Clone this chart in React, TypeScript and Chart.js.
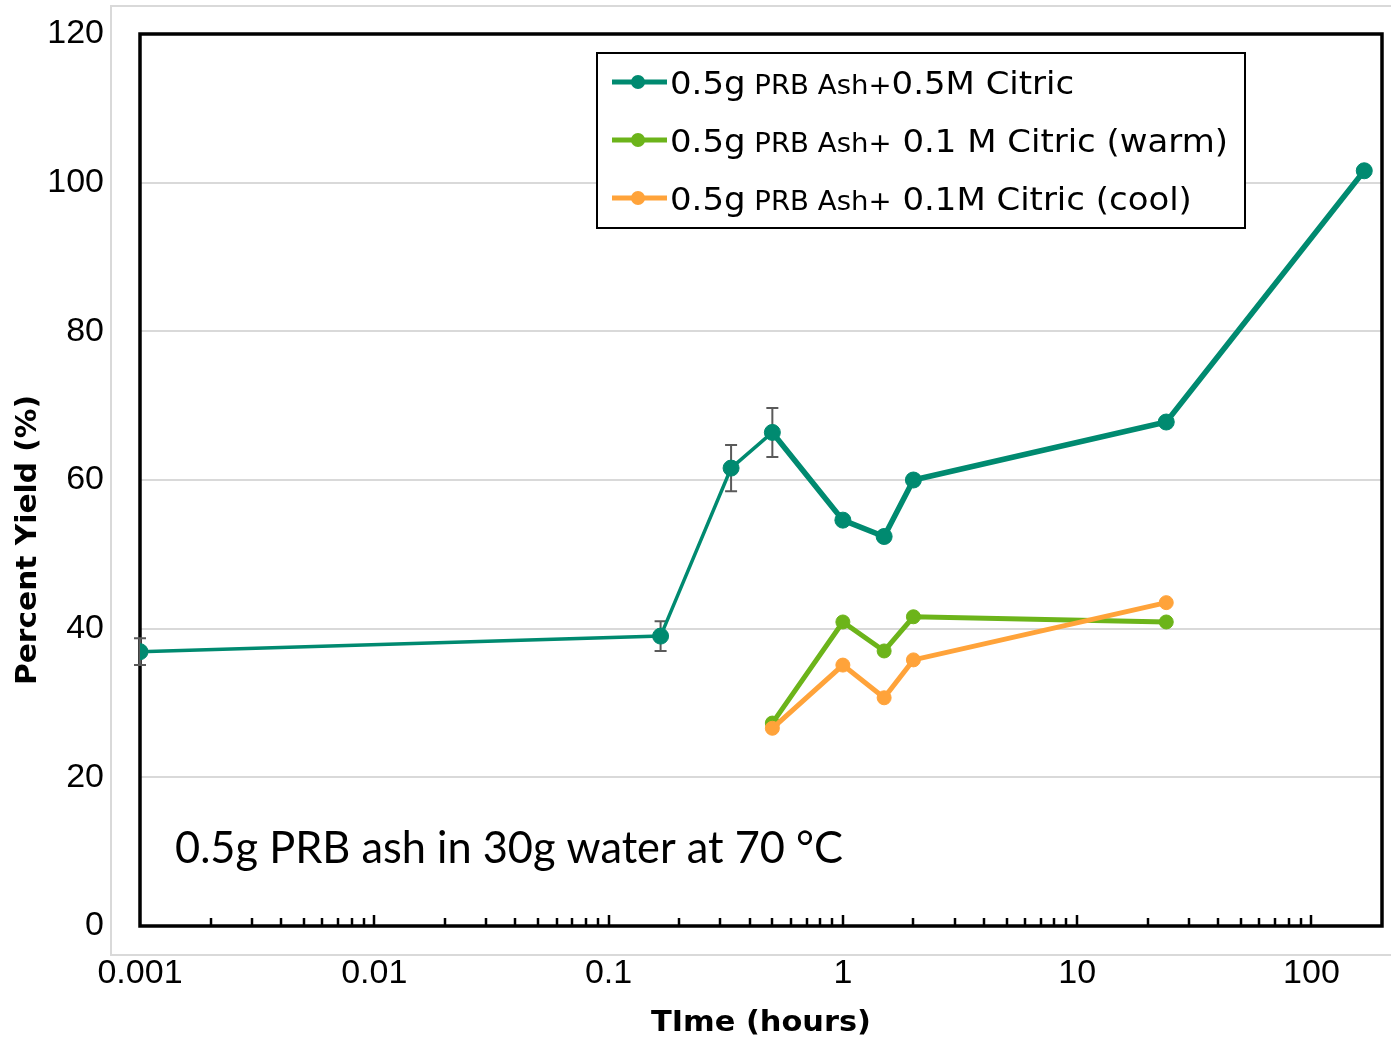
import React, { useEffect, useRef } from 'react';
import { Chart, registerables } from 'chart.js';

Chart.register(...registerables);

// ---- Data ----
const timeTeal = [0.001, 0.1667, 0.3333, 0.5, 1, 1.5, 2, 24, 168];
const yieldTeal = [36.9, 39.0, 61.6, 66.4, 54.6, 52.4, 60.0, 67.8, 101.6];
const errTeal = [1.8, 2.0, 3.1, 3.3, 0, 0, 0, 0, 0];
const timeWarmCool = [0.5, 1, 1.5, 2, 24];
const yieldWarm = [27.3, 40.9, 37.0, 41.6, 40.9];
const yieldCool = [26.6, 35.1, 30.7, 35.8, 43.5];
const xTickValues = [0.001, 0.01, 0.1, 1, 10, 100];
const xTickLabels = ['0.001', '0.01', '0.1', '1', '10', '100'];
const seriesNames = [
  '0.5g PRB Ash+0.5M Citric',
  '0.5g PRB Ash+ 0.1 M Citric (warm)',
  '0.5g PRB Ash+ 0.1M Citric (cool)',
];
// legend rows split into [big, small, big] text runs
const legendRuns = [
  ['0.5g', ' PRB Ash+', '0.5M Citric'],
  ['0.5g', ' PRB Ash+', ' 0.1 M Citric (warm)'],
  ['0.5g', ' PRB Ash+', ' 0.1M Citric (cool)'],
];
const seriesColors = ['#008A70', '#6CB41A', '#FFA33A'];
const xTitle = 'TIme (hours)';
const yTitle = 'Percent Yield (%)';
const noteText = '0.5g PRB ash in 30g water at 70 °C';

function drawScaled(ctx: CanvasRenderingContext2D, text: string, x: number, y: number, target: number) {
  const w = ctx.measureText(text).width;
  const sx = target / w;
  ctx.save();
  ctx.translate(x, y);
  ctx.scale(sx, 1);
  ctx.fillText(text, 0, 0);
  ctx.restore();
}

const decor = {
  id: 'decor',
  beforeDraw(chart: any) {
    const ctx = chart.ctx as CanvasRenderingContext2D;
    ctx.save();
    ctx.fillStyle = '#ffffff';
    ctx.fillRect(0, 0, chart.width, chart.height);
    ctx.strokeStyle = '#d9d9d9';
    ctx.lineWidth = 2;
    ctx.strokeRect(111, 6, chart.width + 20, 949);
    ctx.restore();
  },
  beforeDatasetsDraw(chart: any) {
    const ctx = chart.ctx as CanvasRenderingContext2D;
    const a = chart.chartArea;
    const xs = chart.scales.x;
    const ys = chart.scales.y;
    ctx.save();
    ctx.strokeStyle = '#000';
    ctx.lineWidth = 3.5;
    ctx.strokeRect(a.left, a.top, a.right - a.left, a.bottom - a.top);
    ctx.lineWidth = 2.5;
    for (let e = -3; e <= 2; e++) {
      for (let m = 1; m <= 9; m++) {
        const v = m * Math.pow(10, e);
        if (v <= 0.0010001 || v >= 200) continue;
        const px = Math.round(xs.getPixelForValue(v));
        const len = m === 1 ? 11 : 8;
        ctx.beginPath();
        ctx.moveTo(px, a.bottom);
        ctx.lineTo(px, a.bottom - len);
        ctx.stroke();
      }
    }
    // error bars
    ctx.strokeStyle = '#5a5a5a';
    ctx.lineWidth = 2;
    timeTeal.forEach((t, i) => {
      const e = errTeal[i];
      if (!e) return;
      const px = xs.getPixelForValue(t);
      const y1 = ys.getPixelForValue(yieldTeal[i] + e);
      const y2 = ys.getPixelForValue(yieldTeal[i] - e);
      ctx.beginPath();
      ctx.moveTo(px, y1); ctx.lineTo(px, y2);
      ctx.moveTo(px - 6, y1); ctx.lineTo(px + 6, y1);
      ctx.moveTo(px - 6, y2); ctx.lineTo(px + 6, y2);
      ctx.stroke();
    });
    ctx.restore();
  },
  afterDraw(chart: any) {
    const ctx = chart.ctx as CanvasRenderingContext2D;
    ctx.save();
    // legend box
    ctx.fillStyle = '#fff';
    ctx.fillRect(597, 53, 648, 175);
    ctx.strokeStyle = '#000';
    ctx.lineWidth = 2;
    ctx.strokeRect(597, 53, 648, 175);
    const rowY = [82, 140, 198];
    const bigFont = '32px "DejaVu Sans"';
    const smallFont = '26px "DejaVu Sans"';
    const measureRow = (runs: string[]) => {
      let w = 0;
      runs.forEach((r, k) => {
        ctx.font = k === 1 ? smallFont : bigFont;
        w += ctx.measureText(r).width;
      });
      return w;
    };
    const sx = 558 / measureRow(legendRuns[1]);
    legendRuns.forEach((runs, i) => {
      const y = rowY[i];
      ctx.strokeStyle = seriesColors[i];
      ctx.lineWidth = 5;
      ctx.beginPath();
      ctx.moveTo(612, y); ctx.lineTo(667, y);
      ctx.stroke();
      ctx.fillStyle = seriesColors[i];
      ctx.beginPath();
      ctx.arc(638, y, 7, 0, Math.PI * 2);
      ctx.fill();
      ctx.fillStyle = '#000';
      ctx.textBaseline = 'alphabetic';
      ctx.textAlign = 'left';
      ctx.save();
      ctx.translate(670, y + 12);
      ctx.scale(sx, 1);
      let x = 0;
      runs.forEach((r, k) => {
        ctx.font = k === 1 ? smallFont : bigFont;
        ctx.fillText(r, x, 0);
        x += ctx.measureText(r).width;
      });
      ctx.restore();
    });
    // annotation
    ctx.fillStyle = '#000';
    ctx.font = '44px Lato';
    ctx.textAlign = 'left';
    ctx.textBaseline = 'alphabetic';
    drawScaled(ctx, noteText, 175, 863, 668);
    // x title
    ctx.font = 'bold 28px "DejaVu Sans"';
    drawScaled(ctx, xTitle, 651, 1031, 220);
    // y title
    ctx.save();
    ctx.translate(36, 685);
    ctx.rotate(-Math.PI / 2);
    drawScaled(ctx, yTitle, 0, 0, 290);
    ctx.restore();
    ctx.restore();
  },
};

export default function App() {
  const ref = useRef<HTMLCanvasElement | null>(null);
  useEffect(() => {
    if (!ref.current) return;
    const tickFont = { family: '"Liberation Sans", Arial, sans-serif', size: 34 };
    const chart = new Chart(ref.current, {
      type: 'line',
      data: {
        datasets: [
          {
            label: seriesNames[0],
            data: timeTeal.map((x, i) => ({ x, y: yieldTeal[i] })),
            borderColor: seriesColors[0],
            backgroundColor: seriesColors[0],
            pointRadius: 8,
            pointBorderWidth: 1,
            pointBorderColor: seriesColors[0],
            borderWidth: 4,
            segment: { borderWidth: (c: any) => (c.p0DataIndex < 3 ? 3.5 : 5.5) },
            order: 2,
          },
          {
            label: seriesNames[1],
            data: timeWarmCool.map((x, i) => ({ x, y: yieldWarm[i] })),
            borderColor: seriesColors[1],
            backgroundColor: seriesColors[1],
            pointRadius: 7,
            pointBorderWidth: 1,
            pointBorderColor: seriesColors[1],
            borderWidth: 5,
            order: 1,
          },
          {
            label: seriesNames[2],
            data: timeWarmCool.map((x, i) => ({ x, y: yieldCool[i] })),
            borderColor: seriesColors[2],
            backgroundColor: seriesColors[2],
            pointRadius: 7,
            pointBorderWidth: 1,
            pointBorderColor: seriesColors[2],
            borderWidth: 5,
            order: 0,
          },
        ],
      } as any,
      options: {
        animation: false,
        responsive: true,
        maintainAspectRatio: false,
        layout: { padding: { top: 34, right: 8, left: 0, bottom: 0 } },
        plugins: { legend: { display: false }, tooltip: { enabled: false } },
        scales: {
          x: {
            type: 'logarithmic',
            min: 0.001,
            max: 200,
            afterBuildTicks: (s: any) => {
              s.ticks = xTickValues.map((v) => ({ value: v }));
            },
            afterFit: (s: any) => {
              s.height = 118;
            },
            grid: { display: false, drawTicks: false },
            border: { display: false },
            ticks: {
              font: tickFont,
              color: '#000',
              padding: 27,
              maxRotation: 0,
              autoSkip: false,
              callback: (_v: any, i: number) => xTickLabels[i],
            },
          },
          y: {
            min: 0,
            max: 120,
            afterFit: (s: any) => {
              s.width = 140;
              s.paddingTop = 0;
              s.paddingBottom = 0;
            },
            grid: { color: '#d9d9d9', lineWidth: 2, drawTicks: false },
            border: { display: false },
            ticks: { stepSize: 20, font: tickFont, color: '#000', padding: 36 },
          },
        },
      } as any,
      plugins: [decor as any],
    });
    return () => chart.destroy();
  }, []);
  return (
    <div style={{ position: 'absolute', left: 0, top: 0, width: 1391, height: 1044 }}>
      <canvas ref={ref} />
    </div>
  );
}
